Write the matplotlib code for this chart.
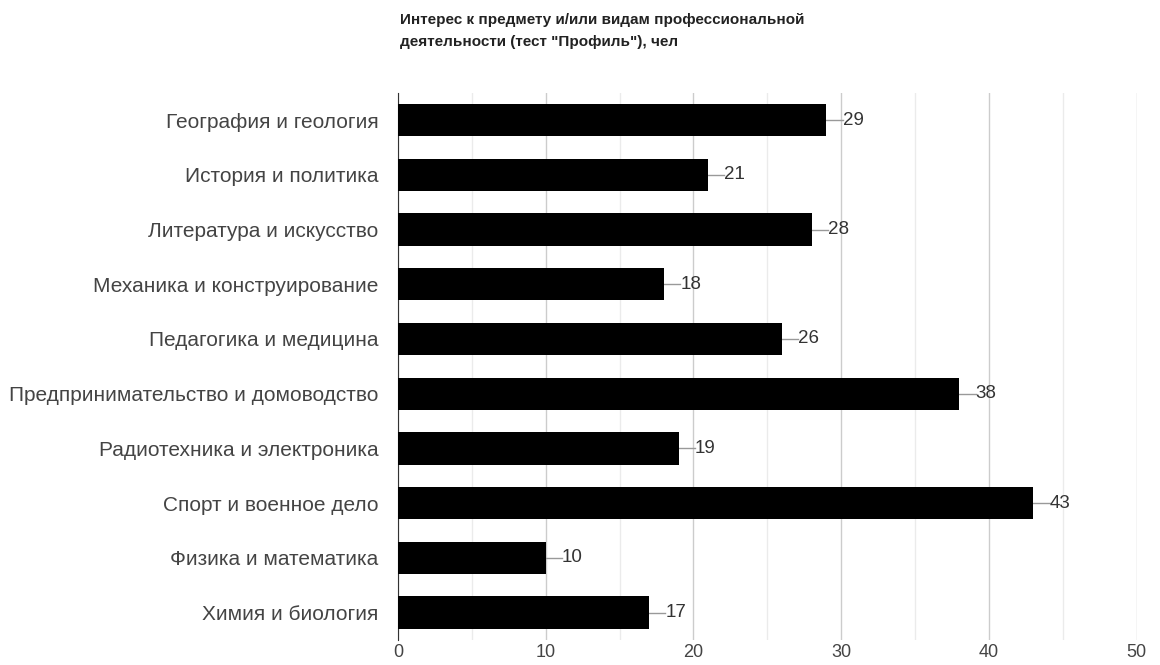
# import packages
import matplotlib
matplotlib.use('Agg')
import matplotlib.pyplot as plt

plt.rcParams['font.family'] = ['Liberation Sans', 'DejaVu Sans']

# data
categories = ['География и геология', 'История и политика', 'Литература и искусство',
              'Механика и конструирование', 'Педагогика и медицина',
              'Предпринимательство и домоводство', 'Радиотехника и электроника',
              'Спорт и военное дело', 'Физика и математика', 'Химия и биология']
values = [29, 21, 28, 18, 26, 38, 19, 43, 10, 17]
title = 'Интерес к предмету и/или видам профессиональной\nдеятельности (тест "Профиль"), чел'

# create figure
fig = plt.figure(figsize=(11.6, 6.65), dpi=100)
ax = fig.add_axes([0.343, 0.0376, 0.637, 0.823])

y = list(range(len(categories)))
ax.barh(y, values, height=0.59, color='black', zorder=3)

# data labels with leader lines
for yi, v in zip(y, values):
    ax.plot([v, v + 1.1], [yi, yi], color='#999999', lw=1, zorder=2)
    ax.text(v + 1.1, yi, str(v), va='center', ha='left', fontsize=13.5, color='#333333')

ax.set_ylim(len(categories) - 0.5, -0.5)
ax.set_xlim(0, 50)
ax.set_yticks(y)
ax.set_yticklabels(categories, fontsize=15, color='#444444')
ax.set_xticks([0, 10, 20, 30, 40, 50])
ax.set_xticklabels(['0', '10', '20', '30', '40', '50'], fontsize=13, color='#444444')
ax.set_xticks([5, 15, 25, 35, 45], minor=True)
ax.tick_params(axis='y', length=0, pad=14)
ax.tick_params(axis='x', which='both', length=0, pad=3)

# gridlines
ax.grid(axis='x', which='major', color='#cccccc', lw=1, zorder=0)
ax.grid(axis='x', which='minor', color='#ebebeb', lw=1, zorder=0)
for s in ['top', 'right', 'bottom']:
    ax.spines[s].set_visible(False)
ax.spines['left'].set_color('#333333')

# title
fig.text(400 / 1160, 1 - 13 / 665, title, fontsize=11, fontweight='bold',
         ha='left', va='top', color='#222222', linespacing=1.75)

fig.savefig('out.png', dpi=100)
